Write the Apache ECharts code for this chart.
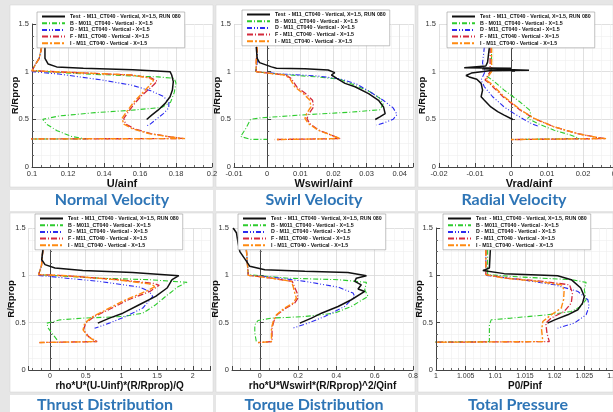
<!DOCTYPE html>
<html><head><meta charset="utf-8">
<script src="https://cdn.jsdelivr.net/npm/echarts@6/dist/echarts.min.js"></script>
<style>html,body{margin:0;padding:0;background:#e6e6e6;}#c{width:613px;height:412px;}</style>
</head><body><div id="c"></div>
<script>
// ---------- DATA ----------
const seriesNames = ['Test  - M11_CT040 - Vertical, X=1.5, RUN 080','B - M011_CT040 - Vertical - X=1.5','D - M11_CT040 - Vertical - X=1.5','F - M11_CT040 - Vertical - X=1.5','I - M11_CT040 - Vertical - X=1.5'];
const panelTitles = ['Normal Velocity','Swirl Velocity','Radial Velocity','Thrust Distribution','Torque Distribution','Total Pressure'];
const xAxisNames = ['U/ainf','Wswirl/ainf','Vrad/ainf','rho*U*(U-Uinf)*(R/Rprop)/Q','rho*U*Wswirl*(R/Rprop)^2/Qinf','P0/Pinf'];
const yAxisName = 'R/Rprop';

// Normal velocity  [U/ainf, R/Rprop]
const U_test = [[0.1072,1.26],[0.1072,1.14],[0.109,1.08],[0.1137,1.05],[0.1285,1.035],[0.156,1.02],[0.1767,1.0],[0.1776,0.965],[0.1785,0.895],[0.178,0.807],[0.1767,0.737],[0.174,0.667],[0.170,0.596],[0.1665,0.544],[0.1637,0.498]];
const U_B = [[0.1054,1.26],[0.104,1.14],[0.1017,1.07],[0.1,1.01],[0.125,0.98],[0.15,0.96],[0.17,0.945],[0.179,0.93],[0.18,0.88],[0.179,0.78],[0.177,0.68],[0.172,0.625],[0.155,0.595],[0.135,0.57],[0.115,0.535],[0.106,0.5],[0.108,0.45],[0.114,0.38],[0.122,0.32],[0.13,0.295],[0.0,0.29]];
const U_D = [[0.1054,1.26],[0.104,1.14],[0.1017,1.07],[0.1,1.0],[0.115,0.975],[0.138,0.915],[0.155,0.86],[0.166,0.80],[0.173,0.74],[0.176,0.68],[0.176,0.62],[0.173,0.56],[0.169,0.50],[0.165,0.44],[0.163,0.43]];
const U_F = [[0.1054,1.26],[0.104,1.14],[0.1017,1.07],[0.1,1.01],[0.13,0.985],[0.155,0.965],[0.166,0.935],[0.1695,0.9],[0.1675,0.86],[0.161,0.75],[0.157,0.667],[0.1536,0.58],[0.151,0.51],[0.152,0.45],[0.157,0.40],[0.166,0.35],[0.177,0.315],[0.184,0.298],[0.0,0.29]];
const U_I = [[0.1054,1.26],[0.104,1.14],[0.1017,1.07],[0.1,1.01],[0.13,0.985],[0.155,0.965],[0.165,0.935],[0.1675,0.91],[0.1655,0.86],[0.16,0.75],[0.156,0.667],[0.1526,0.58],[0.15,0.51],[0.151,0.45],[0.156,0.40],[0.165,0.35],[0.177,0.315],[0.185,0.298],[0.0,0.29]];

// Swirl velocity [Wswirl/ainf, R/Rprop]
const W_test = [[-0.0033,1.26],[-0.003,1.14],[-0.0023,1.095],[0.0013,1.05],[0.0028,1.035],[0.0114,1.03],[0.0184,1.018],[0.0204,0.99],[0.0194,0.965],[0.021,0.93],[0.0235,0.877],[0.0265,0.842],[0.0306,0.77],[0.0336,0.70],[0.0351,0.63],[0.0356,0.56],[0.034,0.526],[0.0326,0.498]];
const W_B = [[-0.003,1.26],[-0.003,1.1],[-0.0035,1.0],[0.005,0.97],[0.015,0.945],[0.022,0.92],[0.027,0.85],[0.031,0.79],[0.034,0.72],[0.035,0.66],[0.034,0.6],[0.025,0.575],[0.01,0.545],[-0.002,0.515],[-0.005,0.5],[-0.0065,0.4],[-0.008,0.32],[-0.0085,0.3],[-0.005,0.29],[0,0.29]];
const W_D = [[-0.003,1.26],[-0.003,1.1],[-0.0035,1.0],[0.005,0.975],[0.015,0.955],[0.022,0.925],[0.027,0.87],[0.031,0.79],[0.035,0.70],[0.038,0.62],[0.0392,0.55],[0.038,0.5],[0.035,0.46],[0.033,0.44]];
const W_F = [[-0.003,1.26],[-0.0033,1.1],[-0.0033,1.0],[0.0013,0.98],[0.0055,0.965],[0.0072,0.93],[0.0089,0.842],[0.0116,0.77],[0.0137,0.70],[0.014,0.63],[0.0126,0.56],[0.012,0.51],[0.0128,0.456],[0.0156,0.386],[0.0195,0.333],[0.022,0.298],[0.0023,0.288]];
const W_I = [[-0.003,1.26],[-0.0033,1.1],[-0.0033,1.0],[0.0013,0.98],[0.0053,0.965],[0.0068,0.93],[0.0083,0.842],[0.0109,0.77],[0.0129,0.70],[0.0132,0.63],[0.0119,0.56],[0.0114,0.51],[0.0124,0.456],[0.0154,0.386],[0.0194,0.333],[0.022,0.298],[0.0023,0.288]];

// Radial velocity [Vrad/ainf, R/Rprop]
const V_test = [[-0.006,1.26],[-0.0065,1.1],[-0.007,1.06],[-0.013,1.04],[0.0,1.035],[-0.008,1.03],[0.005,1.015],[-0.006,1.01],[-0.011,0.985],[-0.0125,0.96],[-0.0116,0.945],[-0.0095,0.92],[-0.0083,0.877],[-0.0079,0.807],[-0.0083,0.737],[-0.0074,0.70],[-0.0056,0.63],[-0.0037,0.58],[-0.0019,0.544],[0.0005,0.498]];
const V_B = [[-0.0054,1.26],[-0.0054,1.02],[-0.0065,0.947],[-0.0046,0.895],[-0.0019,0.807],[0.0019,0.70],[0.0051,0.60],[0.0056,0.544],[0.0046,0.51],[0.0074,0.456],[0.012,0.386],[0.0167,0.333],[0.019,0.298],[0.0009,0.288]];
const V_D = [[-0.0074,1.26],[-0.0079,1.09],[-0.0072,1.0],[-0.0083,0.912],[-0.0074,0.842],[-0.0051,0.737],[-0.0019,0.63],[0.0009,0.56],[0.0035,0.50],[0.006,0.45],[0.0075,0.43]];
const V_F = [[-0.0058,1.26],[-0.0058,1.0],[-0.0072,0.912],[-0.006,0.877],[-0.0022,0.737],[0.0026,0.596],[0.0064,0.509],[0.012,0.421],[0.0185,0.35],[0.024,0.309],[0.0262,0.298],[0.0,0.288]];
const V_I = [[-0.0054,1.26],[-0.0054,1.0],[-0.007,0.912],[-0.0056,0.877],[-0.0019,0.737],[0.0028,0.596],[0.0065,0.509],[0.012,0.421],[0.0185,0.35],[0.024,0.309],[0.0264,0.298],[0.0,0.288]];

// Thrust distribution
const T_test = [[-0.1,1.27],[-0.116,1.166],[-0.07,1.113],[0.07,1.078],[0.46,1.05],[1.157,1.03],[1.805,0.996],[1.71,0.954],[1.667,0.90],[1.64,0.866],[1.48,0.777],[1.25,0.689],[1.02,0.60],[0.833,0.548],[0.67,0.495]];
const T_B = [[-0.1,1.27],[-0.12,1.1],[-0.16,1.007],[0.69,0.97],[1.39,0.954],[1.92,0.926],[1.8,0.883],[1.62,0.777],[1.48,0.689],[1.3,0.60],[1.02,0.565],[0.46,0.548],[0.14,0.53],[-0.046,0.495],[-0.023,0.44],[0.046,0.371],[0.116,0.30]];
const T_D = [[-0.1,1.27],[-0.12,1.1],[-0.16,1.0],[0.23,0.97],[0.69,0.936],[1.25,0.876],[1.39,0.83],[1.44,0.777],[1.3,0.654],[1.06,0.565],[0.83,0.495],[0.625,0.44]];
const T_F = [[-0.1,1.27],[-0.12,1.1],[-0.16,1.007],[0.23,0.996],[0.95,0.954],[1.45,0.915],[1.53,0.895],[1.4,0.83],[1.1,0.742],[0.82,0.636],[0.62,0.565],[0.5,0.495],[0.47,0.424],[0.54,0.353],[0.66,0.30],[-0.148,0.29]];
const T_I = [[-0.1,1.27],[-0.12,1.1],[-0.16,1.007],[0.23,0.996],[0.926,0.954],[1.39,0.91],[1.48,0.883],[1.34,0.83],[1.06,0.742],[0.787,0.636],[0.6,0.565],[0.486,0.495],[0.463,0.424],[0.53,0.353],[0.648,0.30],[-0.148,0.29]];

// Torque distribution
const Q_test = [[-0.139,1.5],[-0.122,1.45],[-0.113,1.34],[-0.104,1.25],[-0.07,1.15],[-0.052,1.095],[0.026,1.06],[0.235,1.042],[0.46,1.03],[0.557,0.996],[0.504,0.97],[0.496,0.936],[0.53,0.90],[0.513,0.855],[0.548,0.83],[0.478,0.742],[0.409,0.671],[0.322,0.60],[0.27,0.548],[0.209,0.495]];
const Q_B = [[-0.07,1.27],[-0.06,1.007],[0.148,0.97],[0.409,0.954],[0.557,0.926],[0.548,0.848],[0.565,0.777],[0.478,0.671],[0.39,0.60],[0.235,0.565],[0.061,0.548],[-0.009,0.523],[-0.026,0.477],[-0.026,0.389],[-0.017,0.29]];
const Q_D = [[-0.07,1.27],[-0.06,1.0],[0.061,0.982],[0.235,0.936],[0.409,0.876],[0.487,0.813],[0.496,0.777],[0.443,0.671],[0.339,0.565],[0.252,0.495],[0.169,0.44]];
const Q_F = [[-0.07,1.27],[-0.06,1.0],[0.061,0.97],[0.17,0.936],[0.18,0.883],[0.195,0.813],[0.2,0.76],[0.182,0.707],[0.136,0.654],[0.09,0.583],[0.073,0.512],[0.064,0.442],[0.064,0.30],[-0.009,0.29]];
const Q_I = [[-0.07,1.27],[-0.06,1.0],[0.061,0.97],[0.165,0.936],[0.174,0.883],[0.183,0.813],[0.191,0.76],[0.174,0.707],[0.13,0.654],[0.087,0.583],[0.07,0.512],[0.061,0.442],[0.061,0.30],[-0.009,0.29]];

// Total pressure
const P_test = [[1.00916,1.27],[1.009,1.078],[1.0087,1.06],[1.0079,1.05],[1.0115,1.018],[1.0205,0.996],[1.0228,0.954],[1.0244,0.866],[1.025,0.777],[1.0247,0.707],[1.0239,0.636],[1.0222,0.583],[1.02,0.53],[1.0188,0.495]];
const P_B = [[1.0087,1.27],[1.0087,1.007],[1.0143,0.982],[1.0228,0.954],[1.0253,0.926],[1.025,0.848],[1.0253,0.742],[1.0244,0.671],[1.0228,0.618],[1.0188,0.583],[1.0126,0.548],[1.0093,0.53],[1.009,0.477],[1.009,0.30],[0.99,0.29]];
const P_D = [[1.0084,1.27],[1.0084,1.0],[1.0143,0.954],[1.02,0.90],[1.0239,0.83],[1.0256,0.742],[1.0258,0.671],[1.0253,0.583],[1.0233,0.495],[1.0205,0.442]];
const P_F = [[1.0084,1.27],[1.0084,1.007],[1.012,0.97],[1.018,0.936],[1.0225,0.90],[1.023,0.813],[1.0228,0.707],[1.0216,0.618],[1.0194,0.548],[1.0185,0.495],[1.0187,0.389],[1.0191,0.30],[0.99,0.29]];
const P_I = [[1.0084,1.27],[1.0084,1.007],[1.0115,0.97],[1.0171,0.936],[1.0211,0.90],[1.0216,0.848],[1.0215,0.742],[1.0211,0.654],[1.0194,0.583],[1.018,0.512],[1.0178,0.424],[1.018,0.30],[0.99,0.29]];

const panelData = [
  [U_test,U_B,U_D,U_F,U_I],
  [W_test,W_B,W_D,W_F,W_I],
  [V_test,V_B,V_D,V_F,V_I],
  [T_test,T_B,T_D,T_F,T_I],
  [Q_test,Q_B,Q_D,Q_F,Q_I],
  [P_test,P_B,P_D,P_F,P_I]
];

// ---------- LAYOUT / STYLE ----------
const layout = [
 {grid:{left:32,top:24,width:180,height:143}, x:{min:0.1,max:0.2,interval:0.02}, lg:[37,12], card:[10,5,203,182], strip:[10,190,203,21], title:[112,200]},
 {grid:{left:234,top:24,width:179,height:143}, x:{min:-0.01,max:0.044,interval:0.01}, lg:[242,10], card:[216,5,199,182], strip:[216,190,199,21], title:[314,200]},
 {grid:{left:439,top:24,width:180,height:143}, x:{min:-0.02,max:0.03,interval:0.01}, lg:[447,12], card:[418,5,195,182], strip:[418,190,195,21], title:[514,200]},
 {grid:{left:28.6,top:228,width:182,height:142}, x:{min:-0.3,max:2.25}, lg:[35,214], card:[10,213,203,179], strip:[10,395,203,17], title:[105,405]},
 {grid:{left:232,top:228,width:181,height:142}, x:{min:-0.145,max:0.8}, lg:[238,214], card:[216,213,199,179], strip:[216,395,199,17], title:[314,405]},
 {grid:{left:436,top:228,width:178,height:142}, x:{min:1,max:1.03,interval:0.005}, lg:[443,214], card:[418,213,195,179], strip:[418,395,195,17], title:[518,405]}
];
const styles = [
  {color:'#111111', width:1.5, type:'solid'},
  {color:'#2ecc2e', width:1.1, type:[5,2,1,2]},
  {color:'#2b2bf0', width:1.1, type:[5,2,1,2,1,2]},
  {color:'#d42a3c', width:1.3, type:[6,2,1,2]},
  {color:'#ff8a10', width:1.4, type:[6,2,2,2]}
];
const drawOrder = [1,2,3,4,0];

const grids=[], xAxes=[], yAxes=[], series=[], legends=[], graphics=[];
layout.forEach((L,i)=>{
  grids.push(Object.assign({show:false, outerBoundsMode:'none', containLabel:false}, L.grid));
  const xa = {type:'value', gridIndex:i, min:L.x.min, max:L.x.max,
    name:xAxisNames[i], nameLocation:'middle', nameGap:i<3?11:11.5, nameMoveOverlap:false,
    nameTextStyle:{fontSize:i<3?11:10, fontWeight:'bold', color:'#111', fontFamily:'Liberation Sans'},
    axisLine:{lineStyle:{color:'#444', width:1}},
    axisTick:{inside:true, length:4, lineStyle:{color:'#444'}},
    minorTick:{show:true, splitNumber:4, length:2, lineStyle:{color:'#666'}},
    axisLabel:{fontSize:i<3?7.5:7, color:'#333', margin:2.5, showMinLabel:(i!==3 && i!==4), showMaxLabel:(i!==1 && i!==3)},
    splitLine:{lineStyle:{color:'#d8d8d8', width:0.8}},
    minorSplitLine:{show:true, lineStyle:{color:'#efefef', width:0.6}}};
  if (L.x.interval) xa.interval = L.x.interval;
  xAxes.push(xa);
  yAxes.push({type:'value', gridIndex:i, min:0, max:1.5, interval:0.5,
    name:yAxisName, nameLocation:'middle', nameGap:12, nameRotate:90, nameMoveOverlap:false,
    nameTextStyle:{fontSize:9.5, fontWeight:'bold', color:'#111', fontFamily:'Liberation Sans'},
    axisLine:{show:true, lineStyle:{color:'#444', width:1}},
    axisTick:{show:true, inside:true, length:4, lineStyle:{color:'#444'}},
    minorTick:{show:true, splitNumber:4, length:2, lineStyle:{color:'#666'}},
    axisLabel:{fontSize:7.5, color:'#333', margin:3},
    splitLine:{lineStyle:{color:'#d8d8d8', width:0.8}},
    minorSplitLine:{show:true, lineStyle:{color:'#efefef', width:0.6}}});
  drawOrder.forEach(s=>{
    series.push({type:'line', name:seriesNames[s], xAxisIndex:i, yAxisIndex:i,
      data:panelData[i][s], symbol:'none', silent:true, animation:false,
      lineStyle:{color:styles[s].color, width:styles[s].width, type:styles[s].type},
      itemStyle:{color:styles[s].color}, z:3});
  });
  legends.push({data:seriesNames.slice(), orient:'vertical', left:L.lg[0], top:L.lg[1],
    itemWidth:23, itemHeight:5, itemGap:1.7, selectedMode:false,
    itemStyle:{opacity:0},
    backgroundColor:'#ffffff', borderColor:'#999', borderWidth:0.6, padding:[2,4,2,4],
    textStyle:{fontSize:5.3, fontWeight:'bold', color:'#111', fontFamily:'Liberation Sans'}});
  graphics.push({type:'rect', z:-10, shape:{x:L.card[0],y:L.card[1],width:L.card[2],height:L.card[3]}, style:{fill:'#ffffff', stroke:'#d0d0d0', lineWidth:0.5}});
  graphics.push({type:'rect', z:-10, shape:{x:L.strip[0],y:L.strip[1],width:L.strip[2],height:L.strip[3]}, style:{fill:'#ffffff'}});
  graphics.push({type:'text', z:10, x:L.title[0], y:L.title[1], style:{text:panelTitles[i], fill:'#2e75b6', font:'bold 16px Lato', align:'center', verticalAlign:'middle'}});
});

const chart = echarts.init(document.getElementById('c'), null, {renderer:'canvas'});
chart.setOption({
  backgroundColor:'#e6e6e6',
  animation:false,
  textStyle:{fontFamily:'Liberation Sans'},
  grid:grids, xAxis:xAxes, yAxis:yAxes, legend:legends, series:series, graphic:graphics
});
</script></body></html>
